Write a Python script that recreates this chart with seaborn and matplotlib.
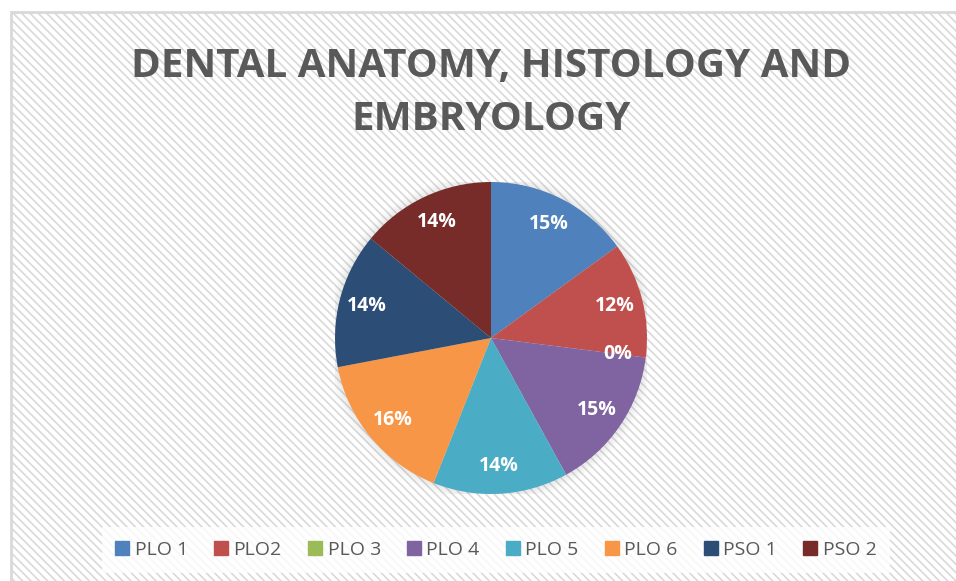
import matplotlib.pyplot as plt
import matplotlib.patches as mpatches
import seaborn as sns

labels = ['PLO 1', 'PLO2', 'PLO 3', 'PLO 4', 'PLO 5', 'PLO 6', 'PSO 1', 'PSO 2']
values = [15, 12, 0, 15, 14, 16, 14, 14]
colors = ['#4F81BD', '#C0504D', '#9BBB59', '#8064A2', '#4BACC6', '#F79646', '#2C4D75', '#772C2A']

sns.set_theme(style='white')
plt.rcParams['font.family'] = ['Open Sans', 'DejaVu Sans']
plt.rcParams['hatch.color'] = '#f3f3f3'
plt.rcParams['hatch.linewidth'] = 1.2

W, H = 956, 581
fig = plt.figure(figsize=(W / 100, H / 100), dpi=100)
fig.patch.set_facecolor('white')

# chart area with diagonal stripes
bgax = fig.add_axes([0, 0, 1, 1], zorder=-1)
bgax.set_xlim(0, W)
bgax.set_ylim(0, H)
bgax.axis('off')
bgax.add_patch(mpatches.Rectangle((11, -5), W, H - 12 + 5, facecolor='white',
                                  edgecolor='#d9d9d9', linewidth=2, hatch='\\\\\\\\'))

# pie
cx, cy, r = 491, H - 338, 156
ax = fig.add_axes([(cx - r) / W, (cy - r) / H, 2 * r / W, 2 * r / H])
ax.set_aspect('equal')
ax.axis('off')

# soft shadow
for i, a in enumerate([0.02, 0.025, 0.03, 0.035, 0.04]):
    ax.add_patch(mpatches.Circle((0, 0), 1.06 - i * 0.012, color='#808080', alpha=a, lw=0))

wedges, texts, autotexts = ax.pie(values, colors=colors, startangle=90, counterclock=False,
                                  radius=1.0, autopct='%d%%', pctdistance=0.82,
                                  wedgeprops=dict(linewidth=0),
                                  textprops=dict(color='white', fontsize=14, fontweight='bold'))
ax.set_xlim(-1.0, 1.0)
ax.set_ylim(-1.0, 1.0)

fig.text(491 / W, (H - 93) / H, 'DENTAL ANATOMY, HISTOLOGY AND\nEMBRYOLOGY',
         ha='center', va='center', fontsize=29, fontweight='bold', color='#595959',
         linespacing=1.45)

handles = [mpatches.Patch(color=c, label=l) for c, l in zip(colors, labels)]
leg = fig.legend(handles=handles, loc='center', bbox_to_anchor=(496 / W, (H - 550) / H),
                 ncol=8, frameon=True, fontsize=14, handlelength=0.7, handleheight=0.7,
                 handletextpad=0.3, columnspacing=1.35, borderpad=0.7, fancybox=False)
leg.get_frame().set_facecolor('white')
leg.get_frame().set_edgecolor('none')
for t in leg.get_texts():
    t.set_color('#595959')

fig.savefig('out.png', dpi=100)
